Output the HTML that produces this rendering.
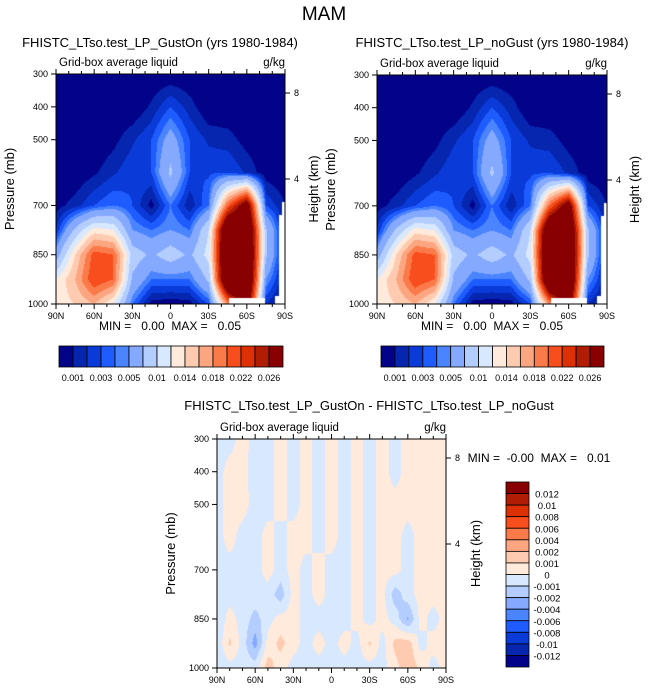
<!DOCTYPE html>
<html><head><meta charset="utf-8">
<style>
body{margin:0;background:#fff;}
#root{position:relative;width:648px;height:693px;overflow:hidden;font-family:"Liberation Sans",sans-serif;color:#000;}
canvas{position:absolute;}
svg{position:absolute;left:0;top:0;}
text{white-space:pre;}
</style></head>
<body>
<div id="root">
<canvas id="c1" width="229" height="230" style="left:56px;top:74px;width:229px;height:230px"></canvas>
<canvas id="c2" width="230" height="229" style="left:377px;top:75px;width:230px;height:229px"></canvas>
<canvas id="c3" width="229" height="229" style="left:217px;top:439px;width:229px;height:229px"></canvas>
<svg id="ov" width="648" height="693"></svg>
</div>
<script>
// ---- data ----
const lats = [90,75,60,45,30,15,0,-15,-30,-45,-60,-75,-90];
const pressures = [300,400,500,600,700,775,850,925,1000];
const gustOnValues = [
 [0,0,0,0,0,0,0,0,0,0,0,0,0],
 [0,0,0,0,0,0.0012,0.003,0.0015,0,0,0,0,0],
 [0,0,0,0.0006,0.0018,0.003,0.006,0.003,0.0018,0.0015,0.0005,0,0],
 [0,0,0.0008,0.0018,0.0028,0.003,0.008,0.003,0.0028,0.003,0.0018,0.0003,0],
 [0.0005,0.0015,0.003,0.004,0.003,0.0005,0.004,0.0012,0.004,0.02,0.03,0.003,0.001],
 [0.002,0.008,0.013,0.012,0.005,0.004,0.005,0.004,0.01,0.035,0.035,0.008,0.001],
 [0.006,0.014,0.021,0.02,0.009,0.007,0.009,0.007,0.011,0.036,0.036,0.008,0.001],
 [0.012,0.016,0.022,0.02,0.007,0.004,0.004,0.004,0.008,0.036,0.036,0.005,0.001],
 [0.013,0.014,0.016,0.012,0.004,0.0005,0.0002,0.0005,0.003,0.018,0.03,0.002,0]
];
const noGustValues = gustOnValues.map(r => r.slice());
const diffLats = [90,80,70,60,50,40,30,20,10,0,-10,-20,-30,-40,-50,-60,-70,-80,-90];
const diffValues = [
 [-0.0004,-0.0004,0.0004,-0.0004,-0.0004,0.0004,-0.0004,0.0004,-0.0004,0.0004,-0.0004,0.0004,-0.0004,0.0004,-0.0004,0.0004,0.0004,0.0004,0.0004],
 [-0.0004,0.0004,0.0003,-0.0004,-0.0004,0.0004,-0.0004,0.0004,-0.0004,0.0004,-0.0004,0.0004,-0.0004,0.0004,-0.0004,0.0004,0.0004,0.0004,0.0004],
 [-0.0004,0.0004,0.0004,-0.0004,-0.0004,0.0004,-0.0004,0.0004,-0.0004,0.0004,-0.0004,0.0004,-0.0004,0.0004,0.0004,0.0004,0.0004,0.0004,0.0004],
 [-0.0004,0.0004,-0.0004,-0.0004,0.0004,-0.0004,0.0004,0.0004,-0.0004,0.0004,-0.0004,0.0004,-0.0004,0.0004,0.0004,-0.0004,0.0004,0.0004,0.0004],
 [-0.0004,-0.0004,-0.0004,-0.0004,0.0004,-0.0004,0.0004,-0.0004,0.0004,-0.0004,-0.0004,0.0004,-0.0004,0.0004,0.0004,-0.0004,0.0004,0.0004,0.0004],
 [-0.0004,-0.0004,-0.0004,-0.0004,-0.0004,-0.0016,0.0004,-0.0004,0.0004,-0.0004,-0.0004,0.0004,-0.0004,0.0004,-0.0016,-0.0004,0.0004,0.0004,0.0004],
 [-0.0008,0.0004,-0.0004,-0.0014,-0.0004,0.0004,0.0004,-0.0004,-0.0004,-0.0004,-0.0004,0.0004,-0.0004,0.0004,-0.0004,-0.0022,0.0004,-0.0004,0.0004],
 [-0.0008,0.0012,-0.0004,-0.0025,0.0004,0.0013,0.0004,-0.0004,0.0004,-0.0004,0.0004,-0.0004,0.0012,-0.0004,0.0013,0.0016,-0.0004,0.0004,0.0004],
 [-0.0008,-0.0004,-0.0004,-0.0004,0.0015,0.0004,-0.0004,-0.0004,-0.0004,-0.0004,-0.0004,-0.0004,-0.0004,-0.0004,0.0006,0.0018,0.0008,-0.0004,0.0004]
];
const absBounds = [0.001,0.002,0.003,0.004,0.005,0.0075,0.01,0.012,0.014,0.016,0.018,0.02,0.022,0.024,0.026];
const absLabels = ["0.001","0.003","0.005","0.01","0.014","0.018","0.022","0.026"];
const diffBounds = [-0.012,-0.01,-0.008,-0.006,-0.004,-0.002,-0.001,0,0.001,0.002,0.004,0.006,0.008,0.01,0.012];
const diffLabels = ["0.012","0.01","0.008","0.006","0.004","0.002","0.001","0","-0.001","-0.002","-0.004","-0.006","-0.008","-0.01","-0.012"];
const latTicks = [90,60,30,0,-30,-60,-90];
const latTickLabels = ["90N","60N","30N","0","30S","60S","90S"];
const presTicks = [300,400,500,700,850,1000];
const palette = ["#03038a","#0626b0","#0a3ad8","#1e5cff","#4a84ff","#85a9ff","#b4cdff","#d8e8ff","#ffeadb","#ffcbb0","#fba680","#fb7a4a","#f84d1c","#dd3004","#b01c04","#880000"];

function colorFor(v,b){let i=0;while(i<b.length&&v>=b[i])i++;return palette[i];}
function interp(la,p,LA,P,V){
  let i=0;while(i<LA.length-2&&la<LA[i+1])i++;
  let j=0;while(j<P.length-2&&p>P[j+1])j++;
  const tx=(LA[i]-la)/(LA[i]-LA[i+1]), ty=(p-P[j])/(P[j+1]-P[j]);
  const a=V[j][i],b=V[j][i+1],c=V[j+1][i],d=V[j+1][i+1];
  return (a*(1-tx)+b*tx)*(1-ty)+(c*(1-tx)+d*tx)*ty;
}
function drawField(id,LA,P,V,B,mask){
  const cv=document.getElementById(id),ctx=cv.getContext('2d');
  const W=cv.width,H=cv.height;
  for(let y=0;y<H;y++)for(let x=0;x<W;x++){
    const la=90-180*(x+0.5)/W, p=300+700*(y+0.5)/H;
    let col=colorFor(interp(la,p,LA,P,V),B);
    if(mask){ if((la<-87.5&&p>690)||(la<-85&&p>730)||(la<-82&&p>975)||(la<-46&&la>-74&&p>983)) col="#ffffff"; }
    ctx.fillStyle=col;ctx.fillRect(x,y,1,1);
  }
}
drawField('c1',lats,pressures,gustOnValues,absBounds,true);
drawField('c2',lats,pressures,noGustValues,absBounds,true);
drawField('c3',diffLats,pressures,diffValues,diffBounds,false);

// ---- annotations ----
const NS="http://www.w3.org/2000/svg";
const svg=document.getElementById('ov');
function el(tag,attrs,txt,name,inter){const e=document.createElementNS(NS,tag);for(const k in attrs)e.setAttribute(k,attrs[k]);if(txt!=null)e.textContent=txt;


svg.appendChild(e);return e;}
function txt(x,y,s,size,anchor,name,rot){const a={x:x,y:y,'font-size':size,'text-anchor':anchor||'start','font-family':'Liberation Sans, sans-serif'};if(rot)a.transform='rotate(-90 '+x+' '+y+')';return el('text',a,s,name,false);}

el('text',{x:324,y:20,'font-size':19,'text-anchor':'middle','font-family':'Liberation Sans, sans-serif'},'MAM','figure-title',false);

function panel(L,T,W,H,title,tx,ty,mm,mmx,mmy,hx){
  const xs=la=>L+(90-la)/180*W, ys=p=>T+(p-300)/700*H;
  txt(tx,ty,title,13,'middle','panel-title');
  txt(L+3,T-8,'Grid-box average liquid',11.5,'start','panel-left-subtitle');
  txt(L+W,T-8,'g/kg',11.5,'end','units-label');
  el('rect',{x:L,y:T,width:W,height:H,fill:'none',stroke:'#000','stroke-width':1},null,'plot-frame',false);
  for(let la=90;la>=-90;la-=10){const x=xs(la),maj=la%30===0;
    el('line',{x1:x,x2:x,y1:T+H,y2:T+H+(maj?5:3),stroke:'#000'},null,'x-tick',false);
    el('line',{x1:x,x2:x,y1:T,y2:T-(maj?5:3),stroke:'#000'},null,'x-tick-top',false);}
  latTicks.forEach((la,i)=>txt(xs(la),T+H+15,latTickLabels[i],9,'middle','x-tick-label'));
  presTicks.forEach(p=>{el('line',{x1:L,x2:L-5,y1:ys(p),y2:ys(p),stroke:'#000'},null,'y-tick',false);
    txt(L-8,ys(p)+3,String(p),9,'end','y-tick-label');});
  [[8,ys(300)+19],[4,ys(300)+105]].forEach(h=>{el('line',{x1:L+W,x2:L+W+5,y1:h[1],y2:h[1],stroke:'#000'},null,'height-tick',false);
    txt(L+W+9,h[1]+3,String(h[0]),9,'start','height-tick-label');});
  txt(L-42,T+H/2,'Pressure (mb)',13,'middle','y-axis-title',true);
  txt(hx,T+H/2,'Height (km)',13,'middle','height-axis-title',true);
  txt(mmx,mmy,mm,12,'middle','min-max-label');
}
panel(56,74,229,230,'FHISTC_LTso.test_LP_GustOn (yrs 1980-1984)',160,47,'MIN =   0.00  MAX =   0.05',170,330,318);
panel(377,75,230,229,'FHISTC_LTso.test_LP_noGust (yrs 1980-1984)',492,47,'MIN =   0.00  MAX =   0.05',492,330,639);
panel(217,439,229,229,'FHISTC_LTso.test_LP_GustOn - FHISTC_LTso.test_LP_noGust',369,410,'MIN =  -0.00  MAX =   0.01',539,462,480);

function hbar(L,T,W,H){const bw=W/16;
  palette.forEach((c,i)=>el('rect',{x:L+i*bw,y:T,width:bw,height:H,fill:c,stroke:'#000','stroke-width':0.8},null,'colorbar-box',false));
  absLabels.forEach((s,k)=>txt(L+(2*k+1)*bw,T+H+14,s,9,'middle','colorbar-label'));}
hbar(59,346,224,21);hbar(381,346,223,21);
(function(){const L=506,T=482,W=23,H=185,bh=H/16;
  palette.slice().reverse().forEach((c,i)=>el('rect',{x:L,y:T+i*bh,width:W,height:bh,fill:c,stroke:'#000','stroke-width':0.8},null,'diff-colorbar-box',false));
  diffLabels.forEach((s,k)=>txt(L+W+18,T+(k+1)*bh+4,s,9.5,'middle','diff-colorbar-label'));})();
</script>
</body></html>
